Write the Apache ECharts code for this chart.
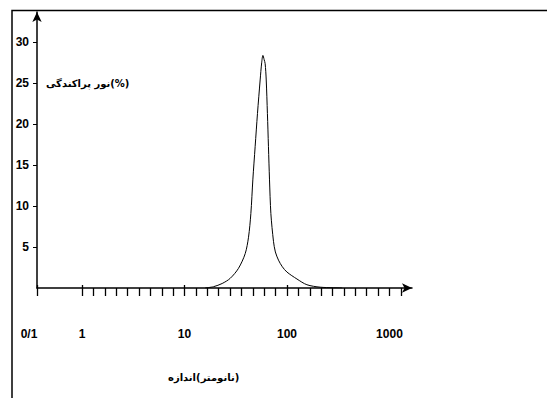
<!DOCTYPE html>
<html><head><meta charset="utf-8">
<script src="https://cdn.jsdelivr.net/npm/echarts@6/dist/echarts.min.js"></script>
<style>html,body{margin:0;padding:0;background:#fff}#c{width:547px;height:398px}</style>
</head><body><div id="c"></div>
<script>
// size (nm) and light scattering (%)
const sizeNm = [15.9, 19.2, 23.3, 27.9, 33.6, 39.1, 42.1, 44.4, 46.4, 48.9, 51.5, 54.7, 56.6, 58.2,
                59.8, 61.2, 62.7, 64.4, 65.9, 67.5, 69.6, 73.8, 77, 82.6, 90, 99.8, 125, 156.4, 211, 346];
const scatter = [0, 0.16, 0.55, 1.18, 2.4, 4.2, 6.2, 9.1, 13.2, 17.3, 21.3, 25.4, 27.5, 28.4,
                 27.9, 27.4, 25.4, 21.3, 17.3, 13.2, 9.1, 5.7, 4.4, 3.4, 2.6, 1.95, 1.1, 0.4, 0.1, 0];
const xTickLabels = ['0/1', '1', '10', '100', '1000'];
const yTickValues = [5, 10, 15, 20, 25, 30];
const yName = '\u2067پراکندگی\u2069 \u2067نور\u2069(%)';
const xName = '\u2067اندازه\u2069(\u2067نانومتر\u2069)';

const X_MIN = -0.44, X_MAX = 3.22;
const labelPos = [X_MIN, 0, 1, 2, 3];
const tickPos = [X_MIN];
for (let d = 0; d < 3; d++) for (let k = 0; k < 9; k++) tickPos.push(d + k / 9);
tickPos.push(3, 3 + 1 / 9);

const lineData = sizeNm.map((s, i) => [Math.log10(s), scatter[i]]);
const labelMap = {};
labelPos.forEach((p, i) => { labelMap[p.toFixed(4)] = xTickLabels[i]; });

const chart = echarts.init(document.getElementById('c'), null, {renderer: 'svg'});
chart.setOption({
  animation: false,
  backgroundColor: '#fff',
  grid: [{left: 37, right: 135, top: 12, bottom: 110}],
  xAxis: [{
    type: 'value', min: X_MIN, max: X_MAX,
    splitLine: {show: false},
    axisLine: {show: true, onZero: false, lineStyle: {color: '#000', width: 1.5}, symbol: ['none', 'arrow'], symbolSize: [7, 10]},
    axisTick: {show: true, length: 8, customValues: tickPos, lineStyle: {color: '#000', width: 1.3}},
    axisLabel: {show: true, margin: 40, customValues: labelPos, color: '#000', fontWeight: 'bold', fontSize: 12,
      fontFamily: 'Liberation Sans, Arial, sans-serif',
      formatter: v => {
        const t = labelMap[v.toFixed(4)] || '';
        return v < -0.1 ? '{o|' + t + '}' : t;
      },
      rich: {o: {padding: [0, 16, 0, 0], color: '#000', fontWeight: 'bold', fontSize: 12, fontFamily: 'Liberation Sans, Arial, sans-serif'}}}
  }, {
    type: 'value', min: X_MIN, max: X_MAX, position: 'bottom',
    splitLine: {show: false}, axisLine: {show: false},
    axisTick: {show: true, inside: true, length: 3, customValues: [X_MIN, 0, 1, 2], lineStyle: {color: '#000', width: 1.3}},
    axisLabel: {show: false}
  }],
  yAxis: [{
    type: 'value', min: 0, max: 33.7,
    splitLine: {show: false},
    axisLine: {show: true, onZero: false, lineStyle: {color: '#000', width: 1.5}, symbol: ['none', 'arrow'], symbolSize: [7, 10]},
    axisTick: {show: true, length: 4, customValues: yTickValues, lineStyle: {color: '#000', width: 1}},
    axisLabel: {show: true, margin: 8, customValues: yTickValues, color: '#000', fontWeight: 'bold', fontSize: 12,
      fontFamily: 'Liberation Sans, Arial, sans-serif'}
  }],
  graphic: [{
    type: 'polyline', silent: true,
    shape: {points: [[12, 400], [12, 10.5], [550, 10.5]]},
    style: {stroke: '#000', lineWidth: 1.5, fill: null}
  }, {
    type: 'text', left: 46, top: 78,
    style: {text: yName, fill: '#000', font: 'bold 10px "DejaVu Sans"'}
  }, {
    type: 'text', left: 168, top: 372,
    style: {text: xName, fill: '#000', font: 'bold 10px "DejaVu Sans"'}
  }],
  series: [{
    type: 'line', data: lineData,
    smooth: 0.3, showSymbol: false, symbol: 'none',
    lineStyle: {color: '#000', width: 1}
  }]
});
</script></body></html>
